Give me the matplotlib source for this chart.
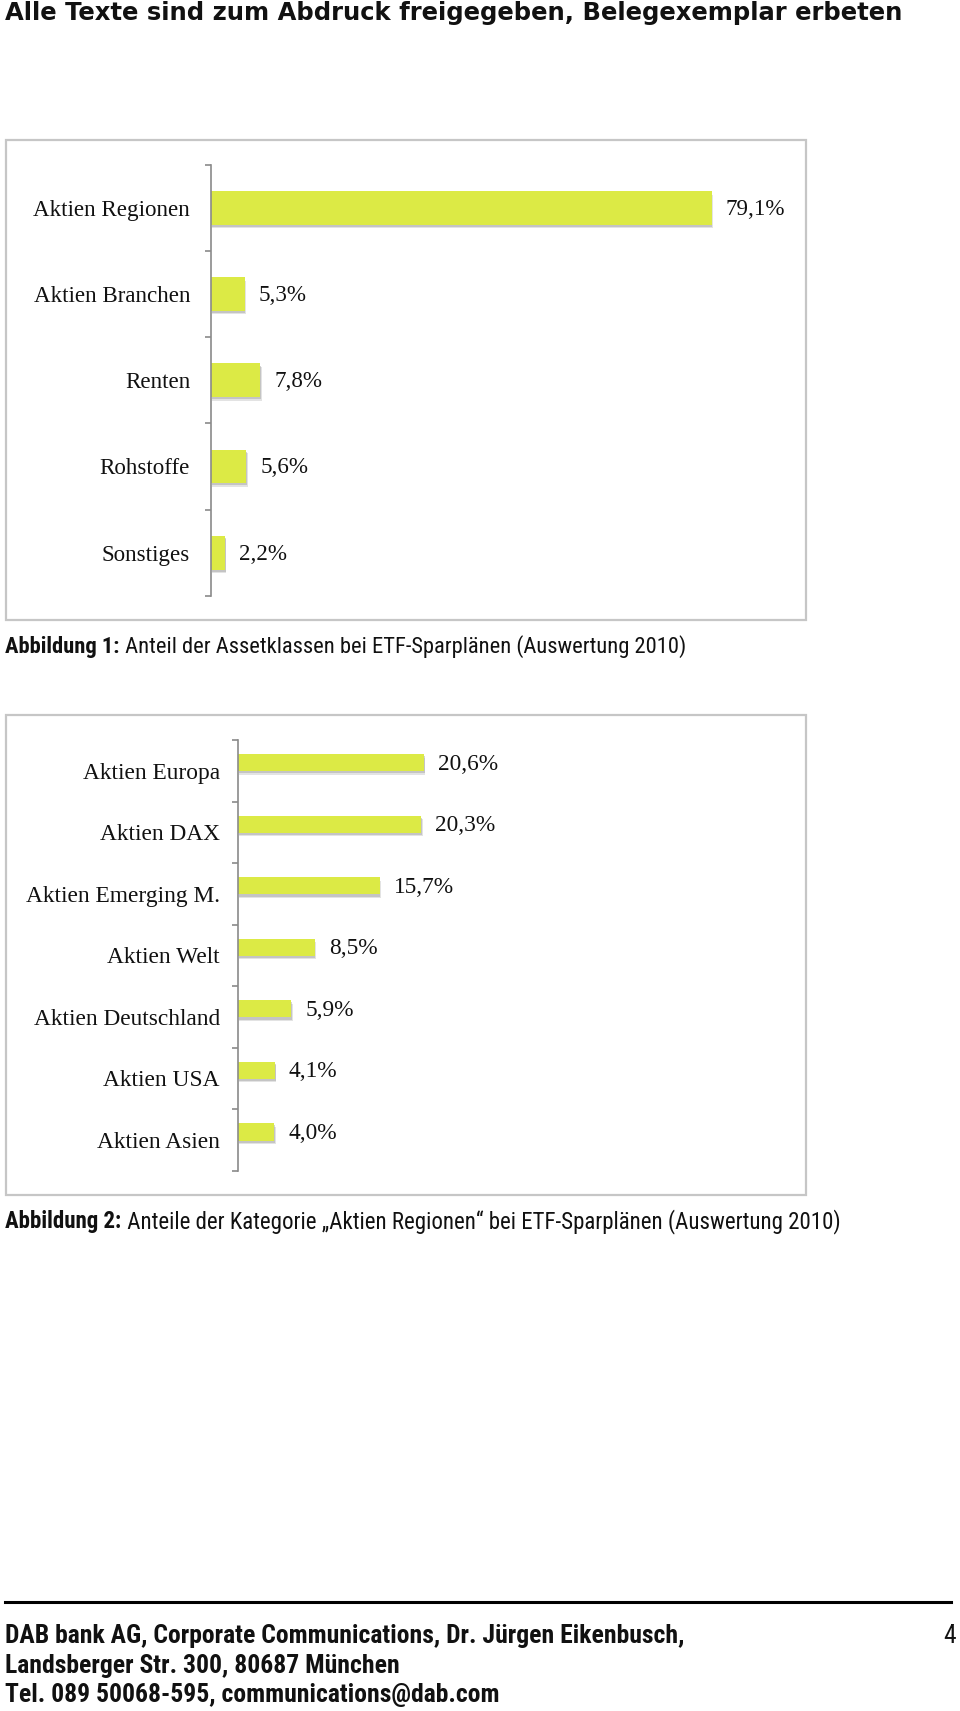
import numpy as np
import matplotlib
matplotlib.use("Agg")
import matplotlib.pyplot as plt
from matplotlib import font_manager
from matplotlib import patheffects as pe
from matplotlib.patches import Rectangle
from matplotlib.lines import Line2D

# ---------------- data ----------------
title_text = "Alle Texte sind zum Abdruck freigegeben, Belegexemplar erbeten"

cat1 = ["Aktien Regionen", "Aktien Branchen", "Renten", "Rohstoffe", "Sonstiges"]
val1 = [79.1, 5.3, 7.8, 5.6, 2.2]
cap1_bold = "Abbildung 1:"
cap1_text = " Anteil der Assetklassen bei ETF-Sparplänen (Auswertung 2010)"

cat2 = ["Aktien Europa", "Aktien DAX", "Aktien Emerging M.", "Aktien Welt",
        "Aktien Deutschland", "Aktien USA", "Aktien Asien"]
val2 = [20.6, 20.3, 15.7, 8.5, 5.9, 4.1, 4.0]
cap2_bold = "Abbildung 2:"
cap2_text = " Anteile der Kategorie \u201eAktien Regionen\u201c bei ETF-Sparplänen (Auswertung 2010)"

footer_lines = ["DAB bank AG, Corporate Communications, Dr. Jürgen Eikenbusch,",
                "Landsberger Str. 300, 80687 München",
                "Tel. 089 50068-595, communications@dab.com"]
page_no = "4"

# ---------------- style ----------------
W, H = 960, 1711
BAR = "#dcea45"
AXC = "#8a8a8a"
BOXC = "#c6c6c6"
TXT = "#111111"

available = {f.name for f in font_manager.fontManager.ttflist}
def pick(cands, default="DejaVu Sans"):
    for c in cands:
        if c in available:
            return c
    return default

SERIF = pick(["Liberation Serif", "DejaVu Serif"])
COND = pick(["Roboto Condensed", "Liberation Sans Narrow", "DejaVu Sans Condensed",
             "Open Sans Condensed", "Roboto", "Noto Sans"])
TITLEF = pick(["DejaVu Sans"])

fig = plt.figure(figsize=(W / 100, H / 100), dpi=100)
fig.patch.set_facecolor("white")
renderer = fig.canvas.get_renderer()

def fx(x):
    return x / W

def fy(y):
    return 1 - y / H

def fit_text(x, y, s, target_w, size0=14, ha="left", **kw):
    t = fig.text(fx(x), fy(y), s, fontsize=size0, va="baseline", ha=ha, color=TXT, **kw)
    w = t.get_window_extent(renderer).width
    t.set_fontsize(size0 * target_w / w)
    return t

def fit_two(x, y, s1, s2, target_w, family, size0=14):
    t1 = fig.text(fx(x), fy(y), s1, fontsize=size0, va="baseline", fontweight="bold",
                  family=family, color=TXT)
    t2 = fig.text(fx(x), fy(y), s2, fontsize=size0, va="baseline", family=family, color=TXT)
    w1 = t1.get_window_extent(renderer).width
    w2 = t2.get_window_extent(renderer).width
    k = target_w / (w1 + w2)
    t1.set_fontsize(size0 * k)
    t2.set_fontsize(size0 * k)
    t2.set_x(fx(x + w1 * k))
    return t1, t2

def fmt(v):
    return f"{v:.1f}".replace(".", ",") + "%"

shadow = [pe.SimplePatchShadow(offset=(1.0, -2.5), shadow_rgbFace="#b0b0b0", alpha=0.35),
          pe.SimplePatchShadow(offset=(0.5, -1.5), shadow_rgbFace="#a0a0a0", alpha=0.45),
          pe.Normal()]

def bar_chart(cats, vals, left, top, bottom, ppu, xmax, height, offset, fs, pad):
    ax = fig.add_axes([fx(left), fy(bottom), (ppu * xmax) / W, (bottom - top) / H])
    n = len(cats)
    pos = np.arange(n)
    ax.barh(pos + offset, vals, height=height, color=BAR, path_effects=shadow, zorder=2)
    ax.set_xlim(0, xmax)
    ax.set_ylim(n - 0.5, -0.5)
    for s in ("top", "right", "bottom"):
        ax.spines[s].set_visible(False)
    ax.spines["left"].set_color(AXC)
    ax.spines["left"].set_linewidth(1.2)
    ax.set_xticks([])
    ax.set_yticks(pos)
    ax.set_yticklabels(cats, fontfamily=SERIF, fontsize=fs, color=TXT)
    ax.tick_params(axis="y", which="major", length=0, pad=pad)
    ax.set_yticks(np.arange(-0.5, n, 1.0), minor=True)
    ax.tick_params(axis="y", which="minor", length=4, width=1.2, color=AXC, direction="out")
    for p, v in zip(pos, vals):
        ax.annotate(fmt(v), (v, p + offset), xytext=(10, -1), textcoords="offset points",
                    va="center", ha="left", fontfamily=SERIF, fontsize=fs, color=TXT)
    ax.patch.set_alpha(0)
    return ax

# outer boxes
for (x0, y0, x1, y1) in [(5.5, 140, 806, 620), (5.5, 715, 806, 1195)]:
    fig.patches.append(Rectangle((fx(x0), fy(y1)), (x1 - x0) / W, (y1 - y0) / H,
                                 transform=fig.transFigure, fill=False,
                                 edgecolor=BOXC, linewidth=1.6))

# chart 1
bar_chart(cat1, val1, left=211, top=164.8, bottom=595.8, ppu=6.33, xmax=90,
          height=0.39, offset=0.0, fs=16.6, pad=15)
# chart 2
bar_chart(cat2, val2, left=238, top=740, bottom=1170.7, ppu=9.03, xmax=55,
          height=0.28, offset=-0.13, fs=16.8, pad=13)

# title
fit_text(5, 20, title_text, 899, size0=16, fontweight="bold", family=TITLEF)

# captions
fit_two(5, 653, cap1_bold, cap1_text, 684, COND)
fit_two(5, 1228, cap2_bold, cap2_text, 837, COND)

# footer
fig.lines.append(Line2D([fx(5), fx(951)], [fy(1602), fy(1602)], transform=fig.transFigure,
                        color="black", linewidth=2.2))
t = fit_text(5, 1643, footer_lines[0], 675, size0=16, fontweight="bold", family=COND)
fsz = t.get_fontsize()
for yy, s in zip([1673, 1702], footer_lines[1:]):
    fig.text(fx(5), fy(yy), s, fontsize=fsz, fontweight="bold", family=COND,
             va="baseline", ha="left", color=TXT)
fig.text(fx(956), fy(1643), page_no, fontsize=fsz, family=COND, va="baseline",
         ha="right", color=TXT)

fig.savefig("out.png", dpi=100, facecolor="white")
